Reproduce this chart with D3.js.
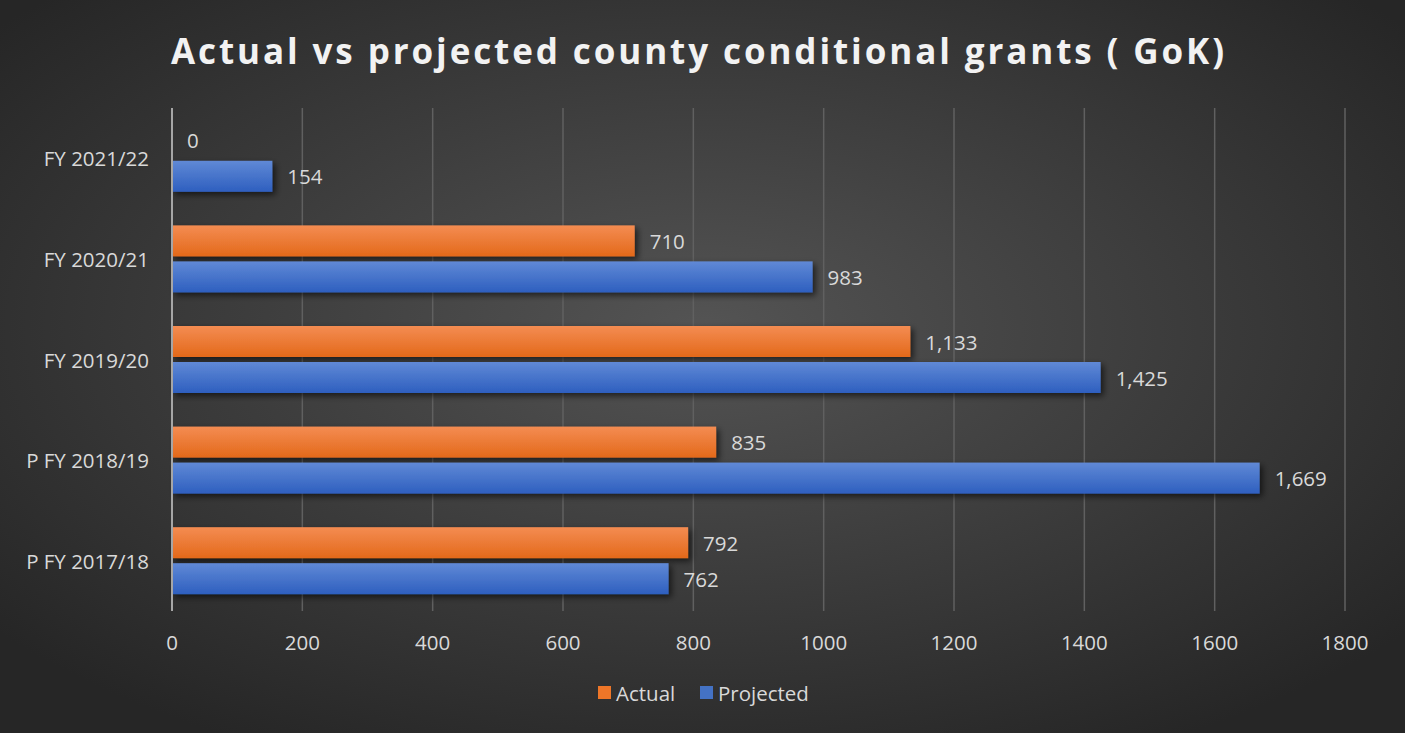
<!DOCTYPE html>
<html>
<head>
<meta charset="utf-8">
<script src="https://cdn.jsdelivr.net/npm/d3@7"></script>
<style>
  html, body { margin: 0; padding: 0; background: #2b2b2b; }
  svg { display: block; }
</style>
</head>
<body>
<div class="canvas"></div>
<script>
// chart data
const categories = ['FY 2021/22', 'FY 2020/21', 'FY 2019/20', 'P FY 2018/19', 'P FY 2017/18']
const actual = [0, 710, 1133, 835, 792]
const projected = [154, 983, 1425, 1669, 762]
const seriesNames = ['Actual', 'Projected']
const xTicks = [0, 200, 400, 600, 800, 1000, 1200, 1400, 1600, 1800]

const W = 1405, H = 733
const plot = {left: 172, right: 1345, top: 108, bottom: 611}

const svg = d3.select('.canvas').append('svg')
  .attr('width', W)
  .attr('height', H)
  .style('font-family', 'Open Sans, sans-serif')

const defs = svg.append('defs')

// background radial shading
const bg = defs.append('radialGradient').attr('id', 'bg')
  .attr('cx', '50%').attr('cy', '45%').attr('r', '65%')
bg.append('stop').attr('offset', '0%').attr('stop-color', '#545454')
bg.append('stop').attr('offset', '100%').attr('stop-color', '#262626')

const grads = [['gOrange', '#f48c52', '#e3691a'], ['gBlue', '#6089d6', '#2e5fbf']]
grads.forEach(g => {
  const lg = defs.append('linearGradient').attr('id', g[0])
    .attr('x1', 0).attr('y1', 0).attr('x2', 0).attr('y2', 1)
  lg.append('stop').attr('offset', '0%').attr('stop-color', g[1])
  lg.append('stop').attr('offset', '100%').attr('stop-color', g[2])
})

const shadow = defs.append('filter').attr('id', 'shadow')
  .attr('x', '-5%').attr('y', '-20%').attr('width', '115%').attr('height', '160%')
shadow.append('feDropShadow').attr('dx', 3).attr('dy', 3).attr('stdDeviation', 3)
  .attr('flood-color', '#000').attr('flood-opacity', 0.6)

svg.append('rect').attr('width', W).attr('height', H).attr('fill', 'url(#bg)')

// title
svg.append('text')
  .attr('x', 699).attr('y', 64)
  .attr('text-anchor', 'middle')
  .attr('fill', '#f2f2f2')
  .attr('font-size', 35)
  .attr('font-weight', 'bold')
  .attr('letter-spacing', 2.9)
  .text('Actual vs projected county conditional grants ( GoK)')

// scales
const x = d3.scaleLinear().domain([0, 1800]).range([plot.left, plot.right])
const y = d3.scaleBand().domain(categories).range([plot.top, plot.bottom]).paddingInner(0).paddingOuter(0)
const barH = 31, gap = 5

// gridlines
svg.append('g').selectAll('line').data(xTicks.slice(1)).join('line')
  .attr('x1', d => x(d)).attr('x2', d => x(d))
  .attr('y1', plot.top).attr('y2', plot.bottom)
  .attr('stroke', '#606060').attr('stroke-width', 1.5)

// x tick labels
svg.append('g').selectAll('text').data(xTicks).join('text')
  .attr('x', d => x(d)).attr('y', 650)
  .attr('text-anchor', 'middle')
  .attr('fill', '#d9d9d9').attr('font-size', 20.5)
  .text(d => d)

// category labels
svg.append('g').selectAll('text').data(categories).join('text')
  .attr('x', 149).attr('y', d => y(d) + y.bandwidth() / 2 + 8)
  .attr('text-anchor', 'end')
  .attr('fill', '#d9d9d9').attr('font-size', 20.5)
  .text(d => d)

const fmt = d3.format(',')
const series = [
  {name: 'Actual', values: actual, fill: 'url(#gOrange)', off: -(barH + gap / 2)},
  {name: 'Projected', values: projected, fill: 'url(#gBlue)', off: gap / 2}
]

series.forEach(s => {
  const g = svg.append('g')
  const rows = categories.map((c, i) => ({c, v: s.values[i]}))
  g.selectAll('rect').data(rows).join('rect')
    .attr('x', x(0))
    .attr('y', d => y(d.c) + y.bandwidth() / 2 + s.off)
    .attr('width', d => x(d.v) - x(0))
    .attr('height', barH)
    .attr('fill', s.fill)
    .attr('filter', d => d.v > 0 ? 'url(#shadow)' : null)
  g.selectAll('text').data(rows).join('text')
    .attr('x', d => x(d.v) + 15)
    .attr('y', d => y(d.c) + y.bandwidth() / 2 + s.off + barH / 2 + 8)
    .attr('fill', '#d9d9d9').attr('font-size', 20.5)
    .text(d => fmt(d.v))
})

// vertical axis line
svg.append('line')
  .attr('x1', x(0)).attr('x2', x(0))
  .attr('y1', plot.top).attr('y2', plot.bottom)
  .attr('stroke', '#a6a6a6').attr('stroke-width', 2)

// legend
const legend = svg.append('g')
const legItems = [{name: seriesNames[0], color: '#ee7628', x: 598}, {name: seriesNames[1], color: '#4472c4', x: 700}]
legItems.forEach(l => {
  legend.append('rect').attr('x', l.x).attr('y', 686).attr('width', 13).attr('height', 13).attr('fill', l.color)
  legend.append('text').attr('x', l.x + 18).attr('y', 701)
    .attr('fill', '#d9d9d9').attr('font-size', 20.5).text(l.name)
})
</script>
</body>
</html>
